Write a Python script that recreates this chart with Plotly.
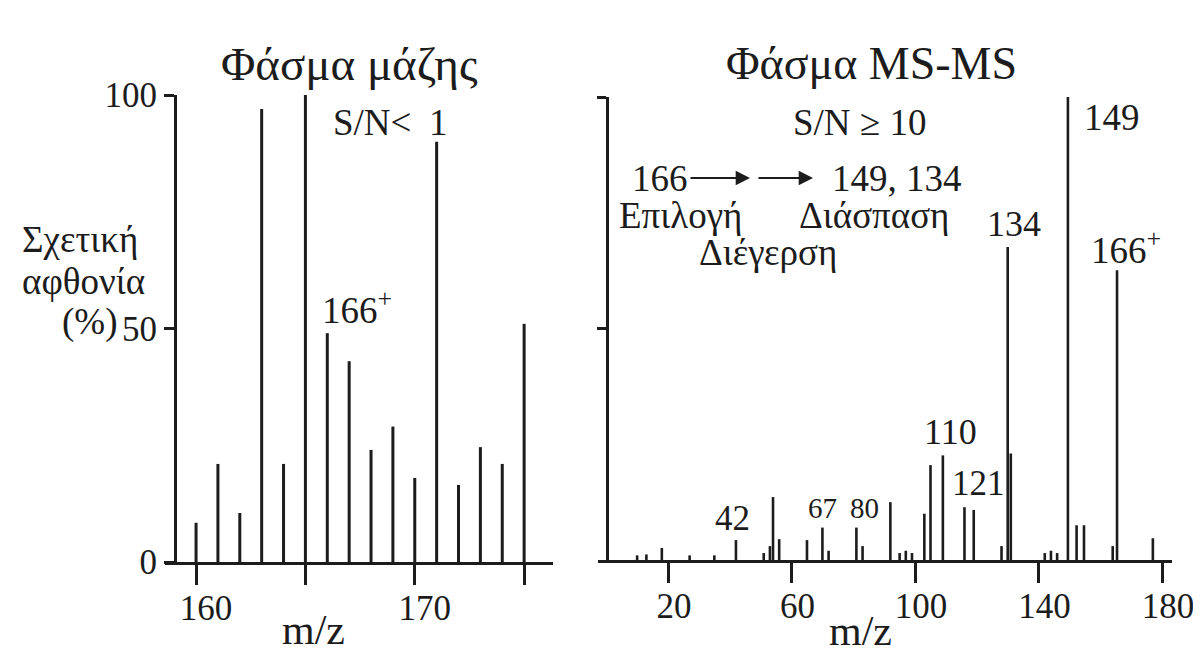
import plotly.graph_objects as go

# page is shown at 1201x655 with the browser's 8px body margin
OFF = 8
W, H = 1201 - OFF, 655 - OFF

# ---- data ----
ms_mz = [160, 161, 162, 163, 164, 165, 166, 167, 168, 169, 170, 171, 172, 173, 174, 175]
ms_int = [8.4, 21, 10.5, 97, 21, 100, 49, 43, 24, 29, 18, 90, 16.5, 24.6, 21, 51]
ms_ticks = [160, 165, 170, 175]
ms_ticktext = ["160", "", "170", ""]

msms_mz = [10, 13, 18, 27, 35, 42, 51, 53, 54, 56, 65, 70, 72, 81, 83, 92, 95, 97, 99,
           103, 105, 109, 116, 119, 128, 130, 131, 142, 144, 146, 149.5, 152.3, 154.7,
           164, 165.4, 177]
msms_int = [1, 1.2, 2.6, 1, 1, 4.3, 1.5, 3, 13.6, 4.5, 4.3, 7, 2, 7, 3, 12.5, 1.5, 2, 1.5,
            10, 20.5, 22.6, 11.4, 10.8, 3, 67.6, 23, 1.5, 2, 1.5, 100, 7.5, 7.5,
            3, 62.6, 4.7]
msms_ticks = [20, 60, 100, 140, 180]

INK = "#1c1c1c"
SERIF = "Liberation Serif, Times New Roman, serif"


def px(x):
    return (x - OFF) / W


def py(y):
    return 1 - (y - OFF) / H


def stems(xs, ys):
    X, Y = [], []
    for x, y in zip(xs, ys):
        X += [x, x, None]
        Y += [0, y, None]
    return X, Y


fig = go.Figure()
x1, y1 = stems(ms_mz, ms_int)
fig.add_trace(go.Scatter(x=x1, y=y1, mode="lines", line=dict(color=INK, width=3),
                         xaxis="x", yaxis="y", hoverinfo="skip", showlegend=False))
x2, y2 = stems(msms_mz, msms_int)
fig.add_trace(go.Scatter(x=x2, y=y2, mode="lines", line=dict(color=INK, width=2.6),
                         xaxis="x2", yaxis="y2", hoverinfo="skip", showlegend=False))

axis_common = dict(showline=True, linecolor=INK, linewidth=3, showgrid=False,
                   zeroline=False, ticks="outside", tickcolor=INK, tickwidth=3,
                   automargin=False,
                   tickfont=dict(family=SERIF, size=35, color=INK))

fig.update_layout(
    width=W, height=H, margin=dict(l=0, r=0, t=0, b=0, autoexpand=False),
    paper_bgcolor="white", plot_bgcolor="white", showlegend=False,
    xaxis=dict(domain=[px(165), px(553)], range=[158.58, 176.32], anchor="y",
               tickvals=ms_ticks, ticktext=ms_ticktext, ticklen=20,
               ticklabelshift=10, ticklabelstandoff=-7, **axis_common),
    yaxis=dict(domain=[py(562), py(95)], range=[0, 100], anchor="free",
               position=px(175), tickvals=[0, 50, 100], ticktext=["0", "50", "100"],
               ticklen=10, **axis_common),
    xaxis2=dict(domain=[px(598), px(1172)], range=[-2.67, 183.2], anchor="y2",
                tickvals=msms_ticks, ticklen=20,
                ticklabelshift=6, ticklabelstandoff=-7, **axis_common),
    yaxis2=dict(domain=[py(560), py(97)], range=[0, 100], anchor="free",
                position=px(607), tickvals=[50, 100], showticklabels=False,
                ticklen=9, **axis_common),
)


def txt(s, x, y, size=36, xanchor="center"):
    fig.add_annotation(text=s, x=px(x), y=py(y), xref="paper", yref="paper",
                       showarrow=False, xanchor=xanchor, yanchor="middle",
                       font=dict(family=SERIF, size=size, color=INK))


# titles
txt("Φάσμα μάζης", 350, 64, size=47)
txt("Φάσμα MS-MS", 871, 64, size=46)
# left panel texts
txt("S/N<", 331, 122, size=37, xanchor="left")
txt("1", 438, 122, size=37)
txt("166<sup>+</sup>", 320, 307, size=37, xanchor="left")
txt("Σχετική", 20, 240, size=37, xanchor="left")
txt("αφθονία", 20, 281, size=37, xanchor="left")
txt("(%)", 119, 322, size=37, xanchor="right")
txt("m/z", 313, 630, size=42)
# right panel texts
txt("S/N ≥ 10", 859, 122, size=37)
txt("166", 660, 178, size=37)
txt("149, 134", 897, 178, size=37)
txt("Επιλογή", 680, 215, size=37)
txt("Διάσπαση", 874, 215, size=37)
txt("Διέγερση", 768, 252, size=37)
txt("149", 1112, 118, size=37)
txt("134", 1014, 224, size=36)
txt("166<sup>+</sup>", 1089, 247, size=37, xanchor="left")
txt("110", 950, 432, size=36)
txt("121", 978, 483, size=35)
txt("42", 732, 518, size=35)
txt("67", 822, 508, size=29)
txt("80", 864, 508, size=29)
txt("m/z", 860, 631, size=42)

# arrows 166 -> -> 149, 134
for head, tail in [(750, 689), (813, 757)]:
    fig.add_annotation(x=px(head), y=py(178), xref="paper", yref="paper", text="",
                       showarrow=True, ax=tail - head, ay=0, arrowhead=2,
                       arrowsize=1.3, arrowwidth=2.2, arrowcolor=INK)

fig.write_html("out.html")
